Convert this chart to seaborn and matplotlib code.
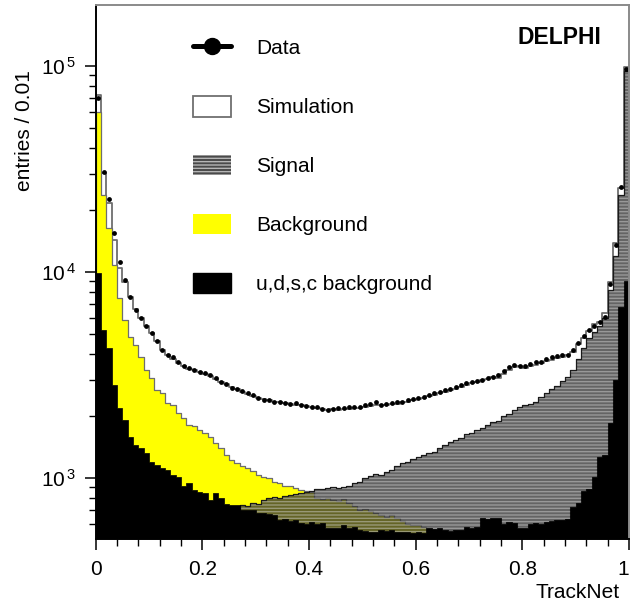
import numpy as np
import pandas as pd
import matplotlib
matplotlib.use("Agg")
import matplotlib.pyplot as plt
from matplotlib.collections import PolyCollection
from matplotlib.lines import Line2D
from matplotlib.patches import Patch
from matplotlib.ticker import FixedLocator, FixedFormatter, MultipleLocator, LogLocator, NullFormatter
import seaborn as sns

# ---------------- data (100 bins of width 0.01 in TrackNet) ----------------
bin_edges = np.linspace(0.0, 1.0, 101).tolist()

simulation = [72000, 30200, 21600, 14300, 10500, 8900, 7600, 6600, 5950, 5450,
              5050, 4600, 4200, 3950, 3800, 3620, 3500, 3400, 3330, 3270,
              3200, 3130, 3040, 2940, 2850, 2770, 2700, 2630, 2560, 2500,
              2460, 2430, 2390, 2350, 2330, 2310, 2290, 2270, 2250, 2230,
              2210, 2190, 2170, 2150, 2160, 2150, 2170, 2160, 2190, 2180,
              2200, 2230, 2250, 2270, 2260, 2290, 2300, 2330, 2350, 2380,
              2420, 2460, 2500, 2530, 2580, 2630, 2680, 2720, 2770, 2820,
              2880, 2940, 2980, 3040, 3100, 3050, 3200, 3350, 3450, 3500,
              3420, 3480, 3550, 3620, 3700, 3760, 3820, 3870, 3950, 4100,
              4450, 4800, 5200, 5600, 5700, 6300, 8900, 13800, 25600, 99000]

data = [70000, 30500, 22500, 15500, 11200, 9140, 7590, 6550, 5960, 5500,
        5060, 4600, 4180, 3950, 3880, 3650, 3500, 3420, 3350, 3280,
        3230, 3160, 3050, 2930, 2850, 2740, 2700, 2640, 2590, 2520,
        2445, 2400, 2380, 2345, 2330, 2310, 2300, 2310, 2260, 2240,
        2220, 2200, 2170, 2140, 2170, 2190, 2190, 2200, 2210, 2220,
        2260, 2300, 2345, 2270, 2290, 2320, 2345, 2345, 2380, 2420,
        2460, 2485, 2530, 2580, 2625, 2680, 2720, 2780, 2825, 2880,
        2930, 2960, 2990, 3050, 3100, 3150, 3300, 3450, 3540, 3480,
        3500, 3560, 3650, 3670, 3780, 3880, 3900, 3950, 3960, 4200,
        4520, 4900, 5230, 5500, 5740, 6070, 8700, 13500, 26000, 97000]

signal = [2500, 1500, 1200, 1000, 900, 850, 800, 760, 720, 700,
          680, 660, 640, 620, 610, 600, 590, 580, 570, 560,
          555, 550, 545, 540, 560, 600, 640, 740, 730, 760,
          750, 780, 800, 810, 800, 820, 830, 840, 850, 860,
          870, 880, 880, 890, 900, 890, 900, 910, 950, 960,
          1000, 1020, 1050, 1040, 1070, 1090, 1150, 1180, 1200, 1240,
          1260, 1290, 1320, 1340, 1400, 1450, 1500, 1530, 1560, 1640,
          1660, 1720, 1750, 1800, 1880, 1900, 2000, 2040, 2150, 2200,
          2260, 2300, 2350, 2480, 2600, 2700, 2800, 2950, 3100, 3350,
          3800, 4300, 4800, 5100, 5500, 6000, 8200, 11900, 23700, 95000]

udsc = [9900, 5230, 4280, 2825, 2190, 1910, 1590, 1450, 1400, 1320,
        1200, 1155, 1120, 1090, 1035, 1015, 910, 945, 875, 860,
        845, 780, 845, 800, 750, 740, 740, 700, 700, 700,
        680, 675, 670, 660, 625, 630, 620, 625, 605, 600,
        610, 600, 605, 570, 575, 570, 590, 575, 580, 560,
        555, 550, 545, 560, 555, 560, 550, 545, 550, 540,
        545, 540, 570, 565, 570, 560, 555, 560, 560, 580,
        575, 580, 640, 635, 640, 640, 600, 610, 605, 570,
        575, 600, 605, 600, 610, 620, 625, 625, 630, 720,
        755, 870, 880, 1015, 1270, 1300, 1850, 2990, 6780, 9000]

background = [60000, 23700, 16400, 10800, 7480, 5850, 4850, 4420, 3880, 3340,
              3050, 2670, 2590, 2310, 2250, 2070, 1955, 1810, 1780, 1710,
              1650, 1590, 1480, 1400, 1290, 1230, 1180, 1150, 1120, 1080,
              1035, 1010, 1000, 960, 945, 920, 910, 890, 875, 870,
              860, 800, 790, 800, 780, 770, 790, 760, 730, 700,
              710, 690, 680, 660, 650, 660, 640, 620, 600, 590,
              590, 580, 570, 560, 540, 560, 555, 560, 560, 580,
              575, 580, 640, 635, 640, 640, 600, 610, 605, 570,
              575, 600, 605, 600, 610, 620, 625, 625, 630, 720,
              755, 870, 880, 1015, 1270, 1300, 1850, 2990, 6780, 9000]

x_ticks = [0.0, 0.2, 0.4, 0.6, 0.8, 1.0]
x_tick_labels = ["0", "0.2", "0.4", "0.6", "0.8", "1"]
y_ticks = [1e3, 1e4, 1e5]
y_tick_labels = [r"$\mathregular{10^{\,3}}$", r"$\mathregular{10^{\,4}}$", r"$\mathregular{10^{\,5}}$"]
legend_labels = ["Data", "Simulation", "Signal", "Background", "u,d,s,c background"]

df = pd.DataFrame({
    "TrackNet": np.asarray(bin_edges[:-1]) + 0.005,
    "simulation": simulation,
    "data": data,
    "signal": signal,
    "udsc": udsc,
    "background": background,
})

# ---------------- style ----------------
sns.set_style("ticks")
plt.rcParams["font.family"] = ["Liberation Sans", "DejaVu Sans"]
plt.rcParams["mathtext.fontset"] = "custom"
plt.rcParams["mathtext.rm"] = "Liberation Sans"
plt.rcParams["mathtext.it"] = "Liberation Sans:italic"
plt.rcParams["hatch.linewidth"] = 1.0
for key in ["text.color", "axes.labelcolor", "xtick.color", "ytick.color",
            "xtick.labelcolor", "ytick.labelcolor"]:
    plt.rcParams[key] = "black"

W, H = 631, 609
fig = plt.figure(figsize=(W / 100, H / 100), dpi=100)
ax_l, ax_r, ax_t, ax_b = 95.7, 629, 5, 539
ax = fig.add_axes([ax_l / W, 1 - ax_b / H, (ax_r - ax_l) / W, (ax_b - ax_t) / H])
ax.set_yscale("log")

# Simulation (white with grey outline)
sns.histplot(data=df, x="TrackNet", weights="simulation", bins=bin_edges, element="step", fill=True,
             facecolor="white", edgecolor="#6e6e6e", linewidth=1.3, zorder=1.0, ax=ax)
# Background (yellow)
sns.histplot(data=df, x="TrackNet", weights="background", bins=bin_edges, element="step", fill=True,
             facecolor="#ffff00", edgecolor="#6e6e6e", linewidth=0.9, zorder=1.1, ax=ax)
# Signal (semi-transparent hatched grey)
sns.histplot(data=df, x="TrackNet", weights="signal", bins=bin_edges, element="step", fill=True,
             facecolor=(0.2, 0.2, 0.2, 0.76), edgecolor=(0.85, 0.85, 0.85, 0.45),
             linewidth=0, hatch="-----", zorder=1.2, ax=ax)
sns.histplot(data=df, x="TrackNet", weights="signal", bins=bin_edges, element="step", fill=False,
             color="#1a1a1a", linewidth=0.9, zorder=1.3, ax=ax)
# u,d,s,c background (black)
sns.histplot(data=df, x="TrackNet", weights="udsc", bins=bin_edges, element="step", fill=True,
             facecolor="black", edgecolor="black", linewidth=0.5, zorder=1.4, ax=ax)

# keep the filled areas' baseline finite on the log axis
for coll in ax.collections:
    if isinstance(coll, PolyCollection):
        for p in coll.get_paths():
            v = np.array(p.vertices, dtype=float)
            v[:, 1] = np.where(v[:, 1] <= 0, 1.0, v[:, 1])
            p.vertices = v

# Data
sns.scatterplot(data=df, x="TrackNet", y="data", color="black", s=12, marker="o",
                edgecolor="black", linewidth=0, ax=ax, zorder=6)

ax.set_xlim(0, 1)
ax.set_ylim(506, 1.977e5)

# ticks
ax.xaxis.set_major_locator(FixedLocator(x_ticks))
ax.xaxis.set_major_formatter(FixedFormatter(x_tick_labels))
ax.xaxis.set_minor_locator(MultipleLocator(0.04))
ax.yaxis.set_major_locator(FixedLocator(y_ticks))
ax.yaxis.set_major_formatter(FixedFormatter(y_tick_labels))
ax.yaxis.set_minor_locator(LogLocator(base=10, subs=np.arange(2, 10)))
ax.yaxis.set_minor_formatter(NullFormatter())
ax.tick_params(axis="both", which="major", direction="out", length=8, width=1.1,
               labelsize=15, color="black", labelcolor="black")
ax.tick_params(axis="both", which="minor", direction="out", length=5, width=1.0, color="black")
ax.tick_params(axis="x", which="major", pad=7)
ax.tick_params(axis="y", which="major", pad=6)
fig.canvas.draw()
ax.get_xticklabels()[-1].set_horizontalalignment("right")
ax.get_xticklabels()[-1].set_x(1.0)

for s in ["left", "bottom"]:
    ax.spines[s].set_color("black")
    ax.spines[s].set_linewidth(1.4)
for s in ["top", "right"]:
    ax.spines[s].set_visible(True)
    ax.spines[s].set_color("#8a8a8a")
    ax.spines[s].set_linewidth(1.4)
for sp in ax.spines.values():
    sp.set_zorder(10)

ax.set_ylabel("entries / 0.01", fontsize=15, va="center", ha="center", color="black")
ax.yaxis.set_label_coords((25 - ax_l) / (ax_r - ax_l), (ax_b - 131) / (ax_b - ax_t))
ax.set_xlabel("TrackNet", fontsize=15, ha="right", va="center", color="black")
ax.xaxis.set_label_coords((620 - ax_l) / (ax_r - ax_l), (ax_b - 593) / (ax_b - ax_t))

ax.text((559 - ax_l) / (ax_r - ax_l), (ax_b - 38) / (ax_b - ax_t), "DELPHI",
        transform=ax.transAxes, ha="center", va="center", fontsize=16.5, fontweight="bold",
        color="black")

handles = [
    Line2D([], [], color="black", lw=3.6, marker="o", ms=11.5),
    Patch(facecolor="white", edgecolor="#707070", linewidth=1.3),
    Patch(facecolor="#4a4a4a", edgecolor="#b5b5b5", hatch="-----", linewidth=0),
    Patch(facecolor="#ffff00", edgecolor="none"),
    Patch(facecolor="black", edgecolor="black"),
]
leg = ax.legend(handles, legend_labels, loc="upper left",
                bbox_to_anchor=(193 / W, 1 - 37 / H), bbox_transform=fig.transFigure,
                frameon=False, fontsize=15, handlelength=1.83, handleheight=1.15,
                handletextpad=1.2, labelspacing=1.8, borderpad=0, borderaxespad=0,
                labelcolor="black")

fig.savefig("out.png", dpi=100)
